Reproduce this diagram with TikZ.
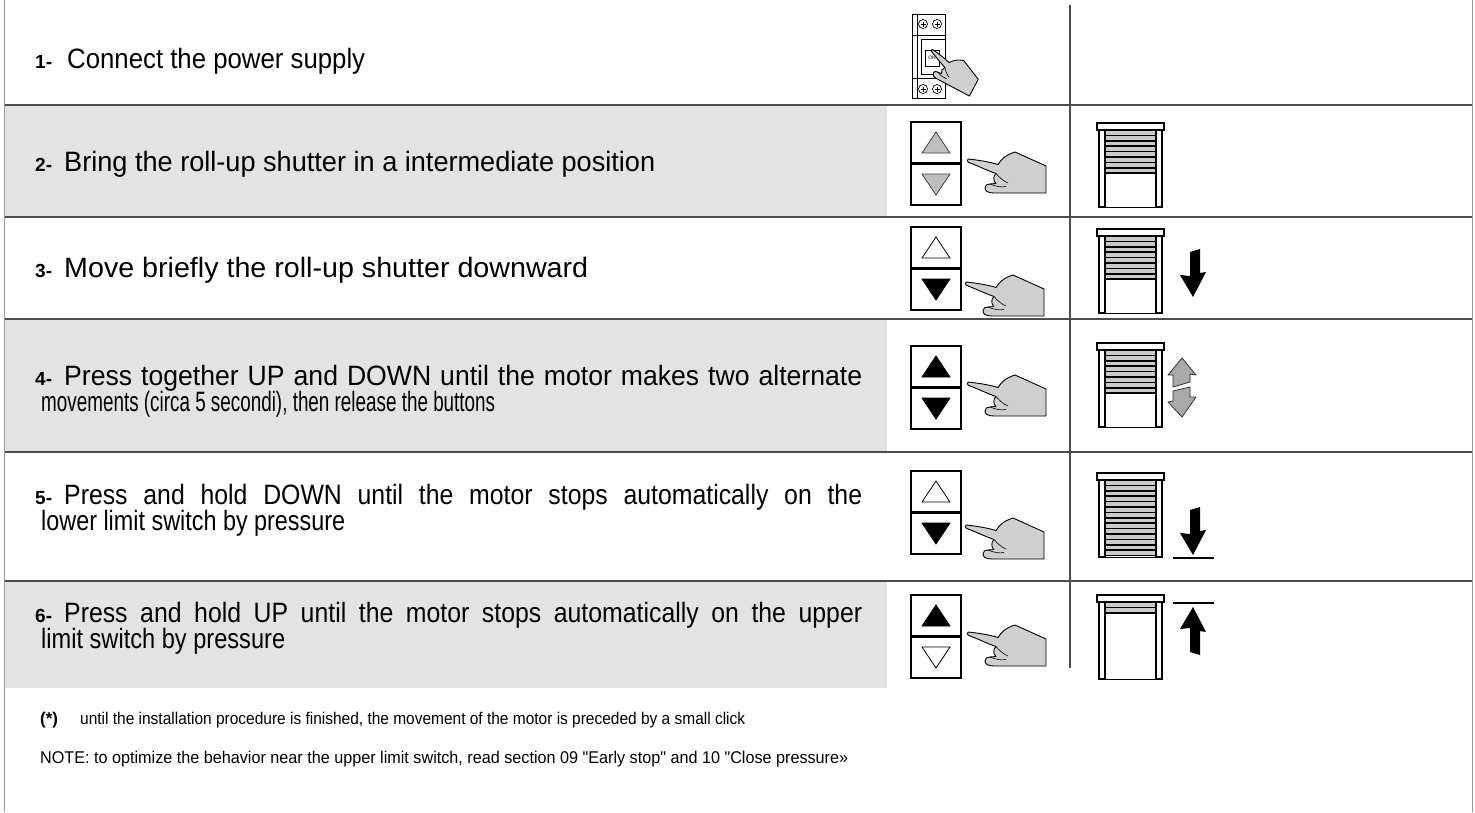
\documentclass[tikz,border=0pt]{standalone}
\usepackage{fontspec}
\setmainfont{Liberation Sans}
\usepackage{graphicx}
\usetikzlibrary{calc,positioning}

\definecolor{rowgray}{HTML}{E3E3E3}
\definecolor{rulegray}{HTML}{4D4D4D}
\definecolor{handgray}{HTML}{CFCFCF}
\definecolor{slatgray}{HTML}{CACACA}
\definecolor{arrowgray}{HTML}{A9A9A9}

% squeeze a line to a given width, keeping its height
\newcommand{\squeeze}[2]{\resizebox{#1}{\height}{#2}}
% justified first lines of the long steps
\newcommand{\spread}[2]{\resizebox{798pt}{\height}{\makebox[#1][s]{#2}}}

\tikzset{
  txt/.style={inner sep=0pt, anchor=base west, font=\fontsize{28}{33}\selectfont},
  numlabel/.style={inner sep=0pt, anchor=base west, font=\fontsize{19}{22}\selectfont\bfseries},
  small/.style={inner sep=0pt, anchor=base west, font=\fontsize{17}{20}\selectfont},
  rowrule/.style={draw=rulegray, line width=1.4pt},
  border/.style={draw=black!40, line width=1pt},
  keybox/.style={draw, line width=1.5pt, fill=white},
  tri off/.style={draw, fill=white, line width=0.8pt},
  tri on/.style={draw, fill=black, line width=0.8pt},
  tri dim/.style={draw=black!75, fill=black!25, line width=0.8pt},
  handfill/.style={draw, fill=handgray, line width=0.9pt, line join=round},
  frame/.style={draw, fill=white, line width=1.1pt},
  bigarrow/.style={fill=black},
  twoway/.style={draw=black!80, fill=arrowgray, line width=0.8pt, line join=round},
}

% up/down push buttons, top left corner at (#1,#2)
\newcommand{\keypad}[4]{%
  \begin{scope}[shift={(#1,#2)}]
    \draw[keybox] (0,0) rectangle (50,83);
    \draw[line width=3pt] (0,41.5) -- (50,41.5);
    \draw[#3] (11,31) -- (39,31) -- (25,10) -- cycle;
    \draw[#4] (11,52) -- (39,52) -- (25,73) -- cycle;
  \end{scope}}

% pointing hand, finger tip at (#2,#3)
\newcommand{\hand}[3][]{%
  \begin{scope}[shift={(#2,#3)}, #1]
    \draw[handfill] (0,-1) .. controls (10,0) and (22,2) .. (30,4.5)
      .. controls (33,0) and (37,-5) .. (47,-8) -- (78,6) -- (78,33) -- (26,33)
      .. controls (20,33) and (17,31) .. (17,28) .. controls (17,25) and (19,24) .. (22,24)
      -- (28,23.5) .. controls (25,21) and (25,16) .. (28,13.5)
      .. controls (18,10) and (8,5) .. (2,3) .. controls (-1,2) and (-1,0) .. (0,-1) -- cycle;
    \draw[line width=0.6pt] (22,24) .. controls (28,26.5) and (33,27.5) .. (38,26.5);
    \draw[line width=0.6pt] (28,13.5) .. controls (31,17) and (35,21) .. (40,23);
  \end{scope}}

% roll-up shutter, top left corner at (#1,#2), #3 slats down
\newcommand{\shutter}[3]{%
  \begin{scope}[shift={(#1,#2)}]
    \fill[slatgray] (8,7) rectangle (59,{7+#3*5.4});
    \foreach \k in {1,...,#3}
      \draw[line width=1.6pt] (8,{7+\k*5.4}) -- (59,{7+\k*5.4});
    \draw[frame] (0,0) rectangle (67,7);
    \draw[frame] (2,7) rectangle (8,84);
    \draw[frame] (59,7) rectangle (65,84);
    \draw[line width=0.6pt] (8,84) -- (59,84);
  \end{scope}}

% solid arrow pointing down, tip at (#2,#3)
\newcommand{\dropdown}[3][]{%
  \fill[bigarrow, shift={(#2,#3)}, #1] (0,0) -- (-13,-22) -- (-3,-21) -- (-3,-45)
    -- (7,-48) -- (7,-24) -- (13,-25) -- cycle;}

\begin{document}
\begin{tikzpicture}[x=1pt, y=-1pt]
  \useasboundingbox (0,0) rectangle (1475,812);
  \fill[white] (0,0) rectangle (1475,812);

  % shaded steps
  \foreach \top/\bot in {105/217, 319/452, 581/688}
    \fill[rowgray] (4,\top) rectangle (887,\bot);
  \foreach \y in {105,217,319,452,581}
    \draw[rowrule] (4,\y) -- (1472,\y);
  \draw[rowrule] (1070,5) -- (1070,668);
  \draw[border] (4,0) -- (4,812);
  \draw[border] (1472,0) -- (1472,812);

  % step texts
  \node[numlabel] (n1) at (35,68) {1-};
  \node[txt] (s1) at (67,68) {\squeeze{298pt}{Connect the power supply}};
  \node[numlabel] (n2) at (35,171) {2-};
  \node[txt] (s2) at (64,171) {\squeeze{591pt}{Bring the roll-up shutter in a intermediate position}};
  \node[numlabel] (n3) at (35,277) {3-};
  \node[txt] (s3) at (64,277) {\squeeze{524pt}{Move briefly the roll-up shutter downward}};
  \node[numlabel] (n4) at (35,385) {4-};
  \node[txt] (s4a) at (64,385) {\spread{840pt}{Press together UP and DOWN until the motor makes two alternate}};
  \node[txt] (s4b) at (41,411) {\squeeze{454pt}{movements (circa 5 secondi), then release the buttons}};
  \node[numlabel] (n5) at (35,504) {5-};
  \node[txt] (s5a) at (64,504) {\spread{900pt}{Press and hold DOWN until the motor stops automatically on the}};
  \node[txt] (s5b) at (41,530) {\squeeze{304pt}{lower limit switch by pressure}};
  \node[numlabel] (n6) at (35,622) {6-};
  \node[txt] (s6a) at (64,622) {\spread{900pt}{Press and hold UP until the motor stops automatically on the upper}};
  \node[txt] (s6b) at (41,648) {\squeeze{244pt}{limit switch by pressure}};

  % notes
  \node[numlabel, font=\fontsize{17}{20}\selectfont\bfseries] (star) at (40,724) {(*)};
  \node[small] (click) at (80,724) {\squeeze{665pt}{until the installation procedure is finished, the movement of the motor is preceded by a small click}};
  \node[small] (note) at (40,763) {\squeeze{808pt}{NOTE: to optimize the behavior near the upper limit switch, read section 09 \textquotedbl Early stop\textquotedbl{} and 10 \textquotedbl Close pressure»}};

  % circuit breaker
  \begin{scope}[shift={(910,12)}]
    \draw[frame, line width=0.9pt] (2,2) rectangle (35,86);
    \draw[line width=0.7pt] (7,2) -- (7,86);
    \draw[line width=0.7pt] (2,23) -- (35,23) (2,66) -- (35,66);
    \draw[line width=0.7pt] (11,27) rectangle (35,62);
    \draw[line width=0.7pt, fill=white] (15,38) rectangle (29,54);
    \node[font=\fontsize{5}{5}\selectfont, inner sep=0pt] (onlabel) at (22,46) {ON};
    \foreach \cx/\cy in {13/12, 27/12, 13/77, 27/77} {
      \draw[line width=0.7pt] (\cx,\cy) circle (4.5);
      \draw[line width=0.6pt] (\cx-2.5,\cy) -- (\cx+2.5,\cy) (\cx,\cy-2.5) -- (\cx,\cy+2.5);
    }
  \end{scope}
  \hand[rotate=-28, scale=0.7]{932}{50}

  % buttons
  \keypad{911}{122}{tri dim}{tri dim}
  \keypad{911}{227}{tri off}{tri on}
  \keypad{911}{346}{tri on}{tri on}
  \keypad{911}{471}{tri off}{tri on}
  \keypad{911}{595}{tri on}{tri off}
  \foreach \x/\y in {968/160, 966/283, 968/383, 966/526, 968/633}
    \hand{\x}{\y};

  % shutters
  \shutter{1097}{123}{8}
  \shutter{1097}{229}{8}
  \shutter{1097}{343}{8}
  \shutter{1097}{473}{14}
  \shutter{1097}{595}{2}

  % movement arrows
  \dropdown{1193}{297}
  \draw[twoway] (1182,358) -- (1196,375) -- (1190,374) -- (1190,382) -- (1173,387)
    -- (1173,375) -- (1168,375) -- cycle;
  \draw[twoway] (1173,391) -- (1190,387) -- (1190,397) -- (1196,397) -- (1182,417)
    -- (1168,402) -- (1173,401) -- cycle;
  \dropdown{1193}{555}
  \draw[line width=2.5pt] (1173,558) -- (1214,558);
  \dropdown[yscale=-1]{1193}{607}
  \draw[line width=2.5pt] (1173,603) -- (1214,603);
\end{tikzpicture}
\end{document}
